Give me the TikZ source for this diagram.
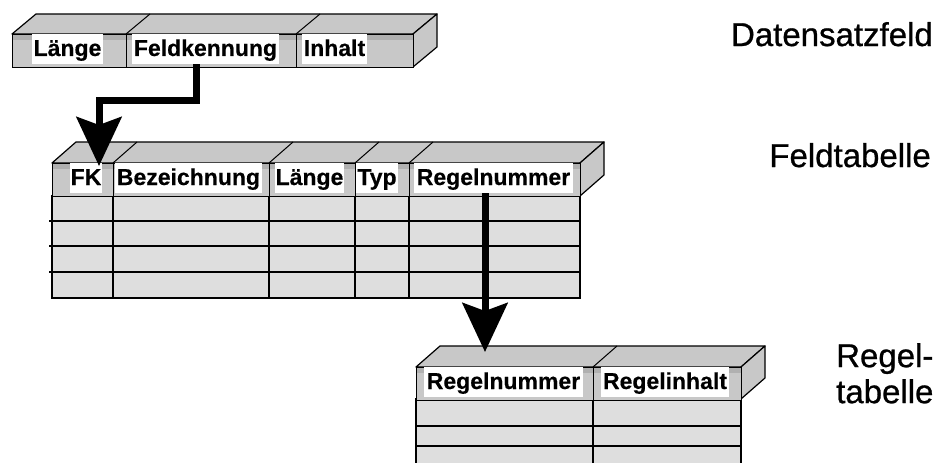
\documentclass[tikz,border=0pt]{standalone}
\usepackage{fontspec}
\setmainfont{Liberation Sans}
\newfontfamily\cellfont[FakeBold=0.4]{Liberation Sans}
\newfontfamily\titlefont[FakeBold=0.8]{Liberation Sans}
\usetikzlibrary{arrows.meta}
\definecolor{facegray}{RGB}{200,200,200}
\definecolor{bandgray}{RGB}{176,176,176}
\definecolor{bodygray}{RGB}{222,222,222}
\tikzset{
  face/.style={fill=facegray, draw=black, line width=1.2pt, line join=round},
  divider/.style={draw=black, line width=1pt},
  bodybox/.style={fill=bodygray, draw=black, line width=1.6pt},
  rowline/.style={draw=black, line width=1.6pt},
  hcell/.style={rectangle, draw=black, fill=facegray, line width=1.2pt, inner sep=0pt,
    minimum height=33pt, anchor=north west,
    path picture={\fill[bandgray] (path picture bounding box.north west) rectangle ([yshift=-5pt]path picture bounding box.north east);}},
  lbl/.style={fill=white, inner sep=0pt, text height=22pt, text depth=8pt, anchor=base,
    font=\cellfont\bfseries\fontsize{23}{25}\selectfont},
  title/.style={inner sep=0pt, font=\titlefont\fontsize{33}{36}\selectfont},
  bigarrow/.style={draw=black, line width=7pt, line join=miter,
    -{Stealth[length=49pt, width=45pt, inset=8pt]}}
}
\begin{document}
\begin{tikzpicture}[x=1pt,y=-1pt]
\useasboundingbox (0,0) rectangle (938,463);

% ---------- Datensatzfeld ----------
\draw[face] (12,34) -- (36,14) -- (437,14) -- (413,34) -- cycle;
\draw[face] (413,34) -- (437,14) -- (437,47) -- (413,67) -- cycle;
\node[hcell, minimum width=114pt] (d1) at (12,34) {};
\node[hcell, minimum width=170pt] (d2) at (126,34) {};
\node[hcell, minimum width=117pt] (d3) at (296,34) {};
\draw[divider] (126,34) -- (150,14);
\draw[divider] (296,34) -- (320,14);
\node[lbl, minimum width=71pt] (dl1) at (67.5,56) {Länge};
\node[lbl, minimum width=147pt] (dl2) at (205.5,56) {Feldkennung};
\node[lbl, minimum width=65pt] (dl3) at (334.5,56) {Inhalt};

% ---------- Feldtabelle ----------
\draw[face] (52,163) -- (76,142) -- (604,142) -- (580,163) -- cycle;
\draw[face] (580,163) -- (604,142) -- (604,175) -- (580,196) -- cycle;
\draw[bodybox] (52,196) rectangle (580,298);
\foreach \y in {221,246,272} \draw[rowline] (49,\y) -- (580,\y);
\foreach \x in {113,269,355,409} \draw[rowline] (\x,196) -- (\x,298);
\node[hcell, minimum width=61pt] (f1) at (52,163) {};
\node[hcell, minimum width=156pt] (f2) at (113,163) {};
\node[hcell, minimum width=86pt] (f3) at (269,163) {};
\node[hcell, minimum width=54pt] (f4) at (355,163) {};
\node[hcell, minimum width=171pt] (f5) at (409,163) {};
\foreach \x in {113,269,355,409} \draw[divider] (\x,163) -- (\x+24,142);
\node[lbl, minimum width=32pt] (fl1) at (86,185) {FK};
\node[lbl, minimum width=147pt] (fl2) at (188.5,185) {Bezeichnung};
\node[lbl, minimum width=69pt] (fl3) at (309.5,185) {Länge};
\node[lbl, minimum width=42pt] (fl4) at (377,185) {Typ};
\node[lbl, minimum width=159pt] (fl5) at (493.5,185) {Regelnummer};

% ---------- Regeltabelle ----------
\draw[face] (416,367) -- (440,346) -- (765,346) -- (741,367) -- cycle;
\draw[face] (741,367) -- (765,346) -- (765,378) -- (741,399) -- cycle;
\draw[bodybox] (416,399) rectangle (741,475);
\foreach \y in {426,446} \draw[rowline] (416,\y) -- (741,\y);
\draw[rowline] (593,399) -- (593,475);
\node[hcell, minimum width=177pt] (r1) at (416,367) {};
\node[hcell, minimum width=148pt] (r2) at (593,367) {};
\draw[divider] (593,367) -- (617,346);
\node[lbl, minimum width=159pt] (rl1) at (503.5,389) {Regelnummer};
\node[lbl, minimum width=128pt] (rl2) at (665,389) {Regelinhalt};

% ---------- titles ----------
\node[title, anchor=base east] (tds) at (933,46) {Datensatzfeld};
\node[title, anchor=base east] (tft) at (931,167) {Feldtabelle};
\node[title, align=left, anchor=north west] (trt) at (836,343) {Regel-\\tabelle};

% ---------- arrows ----------
\coordinate (tip1) at (99,166);
\coordinate (tip2) at (485,352);
\draw[bigarrow] ([xshift=-9.5pt]dl2.south) -- ++(0,36) -| (tip1);
\draw[bigarrow] ([xshift=-8.5pt]fl5.south) -- (tip2);
\end{tikzpicture}
\end{document}
